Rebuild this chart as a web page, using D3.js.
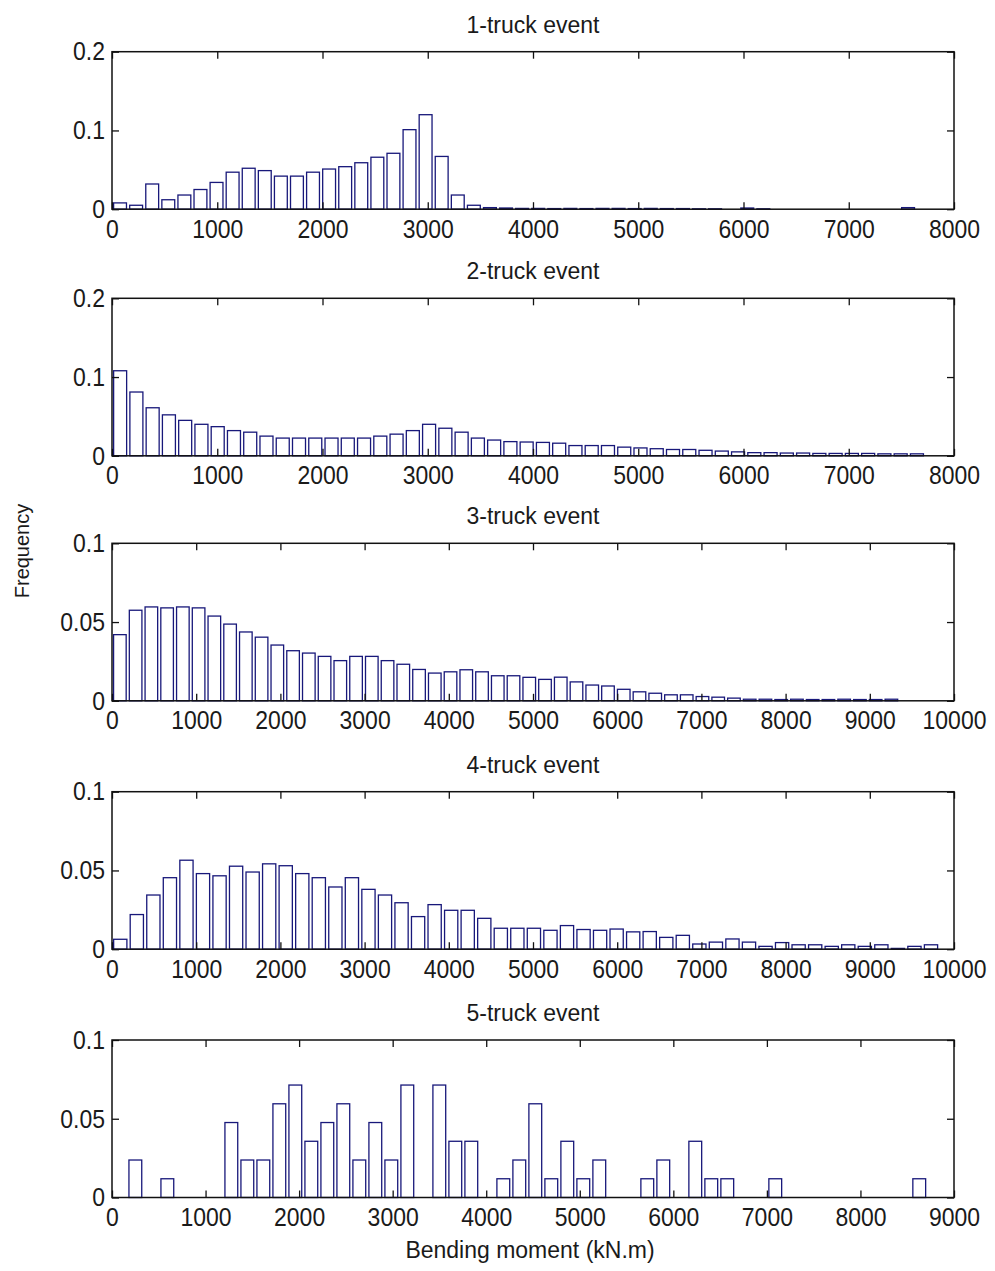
<!DOCTYPE html>
<html><head><meta charset="utf-8">
<script src="https://cdn.jsdelivr.net/npm/d3@7"></script>
<style>
body{margin:0;background:#fff}
text{font-family:"Liberation Sans",Arial,Helvetica,sans-serif;fill:#1a1a1a}
</style>
</head><body>
<svg id="c" width="995" height="1271"></svg>
<script>
// ---------- DATA ----------
const titles = ["1-truck event","2-truck event","3-truck event","4-truck event","5-truck event"];
const binStarts = [0, 0, 0, 0, 164];
const binWidths = [152.8, 154.5, 187, 196.5, 171];
const xMaxes = [8000, 8000, 10000, 10000, 9000];
const yMaxes = [0.2, 0.2, 0.1, 0.1, 0.1];
const xTicks1 = [0,1000,2000,3000,4000,5000,6000,7000,8000];
const xTicks3 = [0,1000,2000,3000,4000,5000,6000,7000,8000,9000,10000];
const xTicks5 = [0,1000,2000,3000,4000,5000,6000,7000,8000,9000];
const yTicksA = [0, 0.1, 0.2];
const yTicksB = [0, 0.05, 0.1];

const freq1 = [0.008,0.005,0.032,0.012,0.018,0.025,0.034,0.047,0.052,0.049,
  0.042,0.042,0.047,0.051,0.054,0.059,0.066,0.071,0.101,0.120,
  0.067,0.018,0.005,0.002,0.0015,0.001,0.001,0.0008,0.001,0.0008,
  0.001,0.001,0.0008,0.001,0.0008,0.0008,0.0005,0.0005,0,0.0015,
  0.0005,0,0,0,0,0,0,0,0,0.002];
const freq2 = [0.108,0.081,0.061,0.052,0.045,0.040,0.037,0.032,0.030,0.025,
  0.0225,0.0225,0.0225,0.0225,0.0225,0.0225,0.025,0.0275,0.032,0.040,
  0.035,0.030,0.0225,0.020,0.018,0.0175,0.017,0.016,0.013,0.013,
  0.013,0.011,0.010,0.009,0.008,0.008,0.007,0.006,0.005,0.004,
  0.004,0.0035,0.0035,0.003,0.003,0.003,0.003,0.0025,0.0025,0.0025];
const freq3 = [0.042,0.0575,0.0596,0.059,0.0596,0.059,0.0538,0.0487,0.0437,0.0404,
  0.0354,0.0318,0.0303,0.0282,0.0255,0.0282,0.0282,0.0255,0.0232,0.0199,
  0.0176,0.0184,0.0197,0.0184,0.0159,0.0159,0.0149,0.0136,0.015,0.012,
  0.010,0.0094,0.0073,0.0057,0.0048,0.0038,0.0038,0.0027,0.0023,0.0017,
  0.001,0.001,0.0008,0.001,0.0008,0.0008,0.001,0.0008,0.0008,0.001];
const freq4 = [0.0063,0.022,0.0344,0.0454,0.0565,0.048,0.0466,0.0527,0.049,0.0542,
  0.053,0.048,0.0454,0.0395,0.0454,0.038,0.0344,0.0295,0.0207,0.0283,
  0.0247,0.0247,0.0196,0.0133,0.0133,0.0133,0.012,0.015,0.0125,0.012,
  0.0128,0.011,0.0112,0.0075,0.0088,0.0033,0.0045,0.0065,0.0045,0.0018,
  0.0042,0.0028,0.0028,0.0018,0.0028,0.0018,0.0028,0.0005,0.0018,0.0028];
const freq5 = [0.0238,0,0.0119,0,0,0,0.0476,0.0238,0.0238,0.0595,
  0.0714,0.0357,0.0476,0.0595,0.0238,0.0476,0.0238,0.0714,0,0.0714,
  0.0357,0.0357,0,0.0119,0.0238,0.0595,0.0119,0.0357,0.0119,0.0238,
  0,0,0.0119,0.0238,0,0.0357,0.0119,0.0119,0,0,
  0.0119,0,0,0,0,0,0,0,0,0.0119];

const panels = [
  {title: titles[0], freq: freq1, x0: binStarts[0], w: binWidths[0], xMax: xMaxes[0], yMax: yMaxes[0], xt: xTicks1, yt: yTicksA},
  {title: titles[1], freq: freq2, x0: binStarts[1], w: binWidths[1], xMax: xMaxes[1], yMax: yMaxes[1], xt: xTicks1, yt: yTicksA},
  {title: titles[2], freq: freq3, x0: binStarts[2], w: binWidths[2], xMax: xMaxes[2], yMax: yMaxes[2], xt: xTicks3, yt: yTicksB},
  {title: titles[3], freq: freq4, x0: binStarts[3], w: binWidths[3], xMax: xMaxes[3], yMax: yMaxes[3], xt: xTicks3, yt: yTicksB},
  {title: titles[4], freq: freq5, x0: binStarts[4], w: binWidths[4], xMax: xMaxes[4], yMax: yMaxes[4], xt: xTicks5, yt: yTicksB}
];

// ---------- LAYOUT ----------
const svg = d3.select("#c");
const left = 112, right = 954;
const tops = [51.7, 298.3, 543.3, 791.7, 1040];
const ph = 157.5;
const fs = 23;
const stretch = 1.12;
const barStroke = "#18187a";

panels.forEach((p, k) => {
  const top = tops[k], bot = top + ph;
  const x = d3.scaleLinear().domain([0, p.xMax]).range([left, right]);
  const y = d3.scaleLinear().domain([0, p.yMax]).range([bot, top]);
  const g = svg.append("g");

  // bars
  g.selectAll("rect.bar").data(p.freq).join("rect")
    .attr("class","bar")
    .attr("x", (d,i) => x(p.x0 + (i + 0.1) * p.w))
    .attr("width", (d,i) => x(p.x0 + (i + 0.9) * p.w) - x(p.x0 + (i + 0.1) * p.w))
    .attr("y", d => y(d))
    .attr("height", d => y(0) - y(d))
    .attr("fill", "#fff")
    .attr("stroke", barStroke)
    .attr("stroke-width", 1.3);

  // axes
  const ax = g.append("g").attr("transform", `translate(0,${bot})`)
    .call(d3.axisBottom(x).tickValues(p.xt).tickSize(-7).tickSizeOuter(0).tickPadding(9).tickFormat(d3.format("d")));
  const axT = g.append("g").attr("transform", `translate(0,${top})`)
    .call(d3.axisTop(x).tickValues(p.xt).tickSize(-7).tickSizeOuter(0).tickFormat(""));
  const ay = g.append("g").attr("transform", `translate(${left},0)`)
    .call(d3.axisLeft(y).tickValues(p.yt).tickSize(-7).tickSizeOuter(0).tickPadding(7).tickFormat(d => String(d)));
  const ayR = g.append("g").attr("transform", `translate(${right},0)`)
    .call(d3.axisRight(y).tickValues(p.yt).tickSize(-7).tickSizeOuter(0).tickFormat(""));
  [ax, axT, ay, ayR].forEach(a => {
    a.select(".domain").remove();
    a.selectAll("line").attr("stroke", "#111").attr("stroke-width", 1.3);
    a.selectAll("text").attr("font-size", fs).attr("fill", "#1a1a1a")
      .attr("font-family", '"Liberation Sans",Arial,sans-serif')
      .attr("transform", `scale(1,${stretch})`);
  });
  g.append("rect").attr("x", left).attr("y", top).attr("width", right-left).attr("height", ph)
    .attr("fill","none").attr("stroke","#111").attr("stroke-width",1.5);

  g.append("text").attr("x", (left+right)/2).attr("y", top - 19)
    .attr("text-anchor","middle").attr("font-size", fs).text(p.title);
});

svg.append("text").attr("transform","translate(29,551) rotate(-90)")
  .attr("text-anchor","middle").attr("font-size", 20).text("Frequency");
svg.append("text").attr("x", 530).attr("y", 1258)
  .attr("text-anchor","middle").attr("font-size", fs).text("Bending moment (kN.m)");
</script>
</body></html>
